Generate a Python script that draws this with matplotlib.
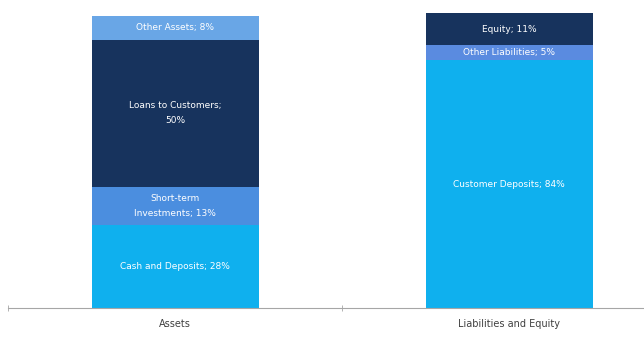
import matplotlib.pyplot as plt

categories = ["Assets", "Liabilities and Equity"]

asset_labels = ["Cash and Deposits", "Short-term\nInvestments", "Loans to Customers;\n", "Other Assets"]
asset_values = [28, 13, 50, 8]
asset_colors = ["#0fb0ee", "#4b8edf", "#17335d", "#69a6e6"]

liab_labels = ["Customer Deposits", "Other Liabilities", "Equity"]
liab_values = [84, 5, 11]
liab_colors = ["#0fb0ee", "#5a8be0", "#17335d"]

fig = plt.figure(figsize=(6.44, 3.38), dpi=100)
ax = fig.add_axes([8 / 644, 30 / 338, 1 - 8 / 644, 1 - 30 / 338])

def stack(x, labels, values, colors):
    bottom = 0
    for lab, v, c in zip(labels, values, colors):
        ax.bar(x, v, bottom=bottom, width=0.5, color=c, edgecolor="none")
        if lab.endswith(";\n"):
            text = f"{lab}{v}%"
        else:
            text = f"{lab}; {v}%"
        ax.text(x, bottom + v / 2, text, ha="center", va="center",
                color="white", fontsize=6.5, linespacing=1.9)
        bottom += v

stack(0, asset_labels, asset_values, asset_colors)
stack(1, liab_labels, liab_values, liab_colors)

ax.set_xticks([0, 1])
ax.set_xticklabels(categories, fontsize=7, color="#404040")
ax.set_xticks([-0.5, 0.5, 1.5], minor=True)
# ticks can widen the view, so set limits afterwards
ax.set_xlim(-0.5, 1.404)
ax.set_ylim(0, 104.4)
ax.tick_params(axis="x", which="major", length=0, pad=8)
ax.tick_params(axis="x", which="minor", length=4, color="#a6a6a6", direction="inout")
ax.set_yticks([])
for s in ["top", "right", "left"]:
    ax.spines[s].set_visible(False)
ax.spines["bottom"].set_color("#a6a6a6")

fig.savefig("out.png", dpi=100)
